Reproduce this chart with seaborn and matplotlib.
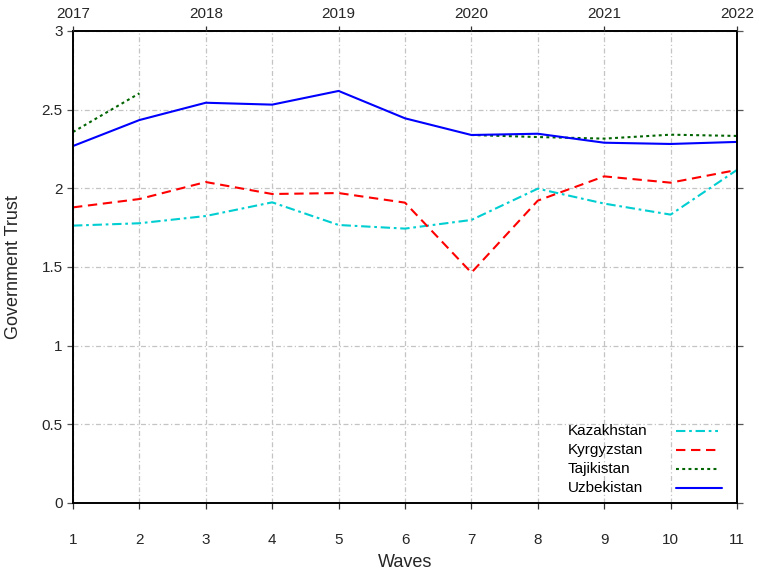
import numpy as np
import pandas as pd
import matplotlib
matplotlib.use("Agg")
import matplotlib.pyplot as plt
from matplotlib.lines import Line2D
import seaborn as sns

waves = [1, 2, 3, 4, 5, 6, 7, 8, 9, 10, 11]
kazakhstan = [1.763, 1.778, 1.824, 1.911, 1.767, 1.744, 1.799, 1.998, 1.903, 1.833, 2.117]
kyrgyzstan = [1.879, 1.932, 2.040, 1.964, 1.970, 1.909, 1.464, 1.922, 2.076, 2.036, 2.117]
tajikistan = [2.358, 2.604, np.nan, np.nan, np.nan, np.nan, 2.339, 2.326, 2.316, 2.341, 2.333]
uzbekistan = [2.269, 2.434, 2.544, 2.532, 2.619, 2.445, 2.339, 2.347, 2.290, 2.282, 2.295]
year_labels = ["2017", "2018", "2019", "2020", "2021", "2022"]
year_positions = [1, 3, 5, 7, 9, 11]
y_ticks = [0, 0.5, 1, 1.5, 2, 2.5, 3]
y_tick_labels = ["0", "0.5", "1", "1.5", "2", "2.5", "3"]

sns.set_theme(style="white")
plt.rcParams["font.family"] = ["Liberation Sans", "DejaVu Sans"]

fig = plt.figure(figsize=(7.59, 5.70), dpi=100)
L, R, T, B = 73, 737, 31, 503
ax = fig.add_axes([L / 759, 1 - B / 570, (R - L) / 759, (B - T) / 570])

styles = {
    "Kazakhstan": dict(color="#00CED1", dashes=(4.5, 1.8, 1.3, 1.8)),
    "Kyrgyzstan": dict(color="#FF0000", dashes=(4.5, 2.7)),
    "Tajikistan": dict(color="#006400", dashes=(1.4, 1.6)),
    "Uzbekistan": dict(color="#0000FF", dashes=None),
}
series = {
    "Kazakhstan": kazakhstan,
    "Kyrgyzstan": kyrgyzstan,
    "Tajikistan": tajikistan,
    "Uzbekistan": uzbekistan,
}

lw = 1.5
for name, vals in series.items():
    df = pd.DataFrame({"wave": waves, "value": vals})
    df["seg"] = df["value"].isna().cumsum()
    df = df.dropna()
    for _, sub in df.groupby("seg"):
        sns.lineplot(data=sub, x="wave", y="value", ax=ax, color=styles[name]["color"],
                     linewidth=lw, legend=False)
        if styles[name]["dashes"]:
            ax.lines[-1].set_dashes(styles[name]["dashes"])

ax.set_xlim(1, 11)
ax.set_ylim(0, 3)
ax.set_xticks(waves)
ax.set_xticklabels([str(w) for w in waves])
ax.set_yticks(y_ticks)
ax.set_yticklabels(y_tick_labels)

ax.grid(True, color="#c4c4c4", linestyle=(0, (4, 2, 1, 2)), linewidth=0.9)
ax.set_axisbelow(True)

for s in ax.spines.values():
    s.set_color("black")
    s.set_linewidth(1.4)

ax.tick_params(axis="x", labelsize=11, color="#333333", length=4.3, width=0.9,
               direction="out", bottom=True, pad=17)
ax.tick_params(axis="y", labelsize=11, color="#555555", length=4.5, width=0.9,
               direction="out", left=True, right=True, labelright=False, pad=3)

ax.set_xlabel("Waves", fontsize=13, labelpad=5.5)
ax.set_ylabel("Government Trust", fontsize=13, labelpad=14)

ax2 = ax.twiny()
ax2.set_xlim(ax.get_xlim())
ax2.set_xticks(year_positions)
ax2.set_xticklabels(year_labels)
ax2.tick_params(axis="x", labelsize=11, direction="out", length=3.6, width=0.9,
                color="#333333", pad=3.5)
for s in ax2.spines.values():
    s.set_visible(False)

# legend, gnuplot-style: text left, sample line right
def ax_x(px):
    return (px - L) / (R - L)

def ax_y(py):
    return (B - py) / (B - T)

rows_y = [431, 450, 469, 488]
for (name, st), py in zip(styles.items(), rows_y):
    ax.text(ax_x(568), ax_y(py), name, transform=ax.transAxes, fontsize=11,
            ha="left", va="center", color="black")
    x_end = 722 if st["dashes"] is None else 718
    ln = Line2D([ax_x(676), ax_x(x_end)], [ax_y(py), ax_y(py)], transform=ax.transAxes,
                color=st["color"], linewidth=lw)
    if st["dashes"]:
        ln.set_dashes(st["dashes"])
    ax.add_line(ln)

fig.savefig("out.png", dpi=100)
